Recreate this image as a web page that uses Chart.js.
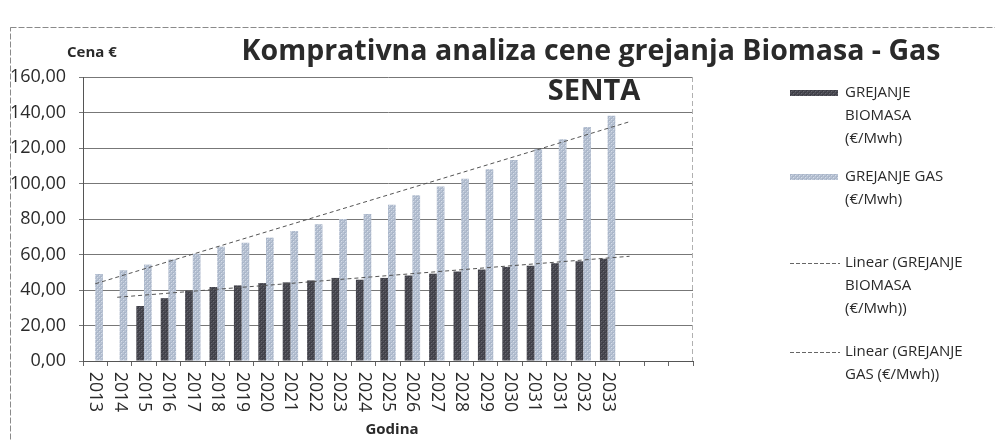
<!DOCTYPE html>
<html>
<head>
<meta charset="utf-8">
<script src="https://cdn.jsdelivr.net/npm/chart.js@4.4.1/dist/chart.umd.min.js"></script>
<style>
  html, body { margin: 0; padding: 0; background: #fff; }
  #wrap { width: 995px; height: 440px; }
</style>
</head>
<body>
<div id="wrap"><canvas id="chart" width="995" height="440"></canvas></div>
<script>
// ============================================
// DADOS
// ============================================
const years = ['2013', '2014', '2015', '2016', '2017', '2018', '2019', '2020', '2021', '2022', '2023',
  '2024', '2025', '2026', '2027', '2028', '2029', '2030', '2031', '2031', '2032', '2033', '', '', ''];

const biomasa = [null, null, 31, 35.4, 39.7, 41.7, 42.6, 43.9, 44.3, 45.4, 46.8,
  45.8, 46.8, 48.1, 49.2, 50.4, 51.5, 53, 53.7, 55.1, 56.2, 57.6];

const gas = [49, 51.1, 54.3, 57.2, 60.4, 64.4, 66.6, 69.5, 73.2, 77, 80,
  82.8, 88, 93.4, 98.3, 102.7, 108, 113.2, 119.5, 125, 131.8, 138.1];

// trend lines, end points (category index, value)
const bioTrendX = [0.9, 21.9];
const bioTrendY = [35.9, 59];
const gasTrendX = [0, 21.9];
const gasTrendY = [43.5, 134.8];

const yTicks = [0, 20, 40, 60, 80, 100, 120, 140, 160];

const legendItems = [
  { kind: 'bar', fill: 'bio', lines: ['GREJANJE', 'BIOMASA', '(€/Mwh)'], gap: 15 },
  { kind: 'bar', fill: 'gas', lines: ['GREJANJE GAS', '(€/Mwh)'], gap: 40 },
  { kind: 'line', lines: ['Linear (GREJANJE', 'BIOMASA', '(€/Mwh))'], gap: 20 },
  { kind: 'line', lines: ['Linear (GREJANJE', 'GAS (€/Mwh))'], gap: 0 }
];

// ============================================
// PADRÕES DAS BARRAS
// ============================================
function makePattern(base, dot1, dot2) {
  const c = document.createElement('canvas');
  c.width = 4; c.height = 4;
  const g = c.getContext('2d');
  g.fillStyle = base;
  g.fillRect(0, 0, 4, 4);
  g.fillStyle = dot1;
  g.fillRect(0, 0, 2, 2);
  g.fillRect(2, 2, 2, 2);
  g.fillStyle = dot2;
  g.fillRect(1, 1, 1, 1);
  g.fillRect(3, 3, 1, 1);
  return g.createPattern(c, 'repeat');
}

const bioFill = makePattern('#4c4c54', '#3e3e46', '#66666e');
const gasFill = makePattern('#b8c3d4', '#a9b5c8', '#d6dde8');

const FONT = '"Open Sans", "Liberation Sans", sans-serif';
const TEXT = '#2a2a2a';

// ============================================
// LINHAS DE TENDÊNCIA (pelas escalas x / y)
// ============================================
const trends = {
  id: 'trends',
  afterDatasetsDraw(chart) {
    const ctx = chart.ctx;
    const xs = chart.scales.x;
    const ys = chart.scales.y;
    ctx.save();
    ctx.strokeStyle = '#555';
    ctx.lineWidth = 1;
    ctx.setLineDash([4, 3]);
    [[bioTrendX, bioTrendY], [gasTrendX, gasTrendY]].forEach(([tx, ty]) => {
      ctx.beginPath();
      tx.forEach((x, i) => {
        // numeric value -> fractional category position
        const px = xs.getPixelForValue(x);
        const py = ys.getPixelForValue(ty[i]);
        if (i === 0) ctx.moveTo(px, py); else ctx.lineTo(px, py);
      });
      ctx.stroke();
    });
    ctx.restore();
  }
};

// ============================================
// DESENHO EXTRA (moldura, títulos, legenda, rótulos X)
// ============================================
const decor = {
  id: 'decor',
  beforeDraw(chart) {
    const ctx = chart.ctx;
    ctx.save();
    ctx.fillStyle = '#fff';
    ctx.fillRect(0, 0, chart.width, chart.height);
    ctx.strokeStyle = '#8a8a8a';
    ctx.lineWidth = 1;
    ctx.setLineDash([6, 2]);
    ctx.strokeRect(10.5, 27.5, 990, 420);
    ctx.restore();
  },
  afterDraw(chart) {
    const ctx = chart.ctx;
    const area = chart.chartArea;
    const xs = chart.scales.x;
    ctx.save();

    // right border of the plot
    ctx.strokeStyle = '#b0b0b0';
    ctx.setLineDash([5, 3]);
    ctx.beginPath();
    ctx.moveTo(area.right - 0.5, area.top);
    ctx.lineTo(area.right - 0.5, area.bottom);
    ctx.stroke();
    ctx.setLineDash([]);

    ctx.fillStyle = TEXT;
    ctx.textBaseline = 'middle';

    ctx.textAlign = 'center';
    ctx.font = 'bold 28.5px ' + FONT;
    ctx.fillText('Komprativna analiza cene grejanja Biomasa - Gas', 591, 52);

    ctx.font = 'bold 29px ' + FONT;
    ctx.fillText('SENTA', 594, 92);

    ctx.font = 'bold 15px ' + FONT;
    ctx.textAlign = 'left';
    ctx.fillText('Cena €', 67, 53);

    ctx.textAlign = 'center';
    ctx.font = 'bold 15px ' + FONT;
    ctx.fillText('Godina', 392, 430);

    // x labels, rotated clockwise
    ctx.font = '17.5px ' + FONT;
    ctx.textAlign = 'left';
    years.forEach((y, i) => {
      if (!y) return;
      const px = xs.getPixelForValue(i);
      ctx.save();
      ctx.translate(px, area.bottom + 11);
      ctx.rotate(Math.PI / 2);
      ctx.fillText(y, 0, 0);
      ctx.restore();
    });

    // legend
    ctx.font = '15px ' + FONT;
    let yy = 93;
    legendItems.forEach(it => {
      if (it.kind === 'bar') {
        ctx.fillStyle = it.fill === 'bio' ? bioFill : gasFill;
        ctx.fillRect(790, yy - 3, 48, 6);
      } else {
        ctx.strokeStyle = '#666';
        ctx.lineWidth = 1;
        ctx.setLineDash([4, 2]);
        ctx.beginPath();
        ctx.moveTo(790, yy + 0.5);
        ctx.lineTo(840, yy + 0.5);
        ctx.stroke();
        ctx.setLineDash([]);
      }
      ctx.fillStyle = TEXT;
      it.lines.forEach((t, j) => ctx.fillText(t, 845, yy + j * 23));
      yy += (it.lines.length - 1) * 23 + 23 + it.gap;
    });

    ctx.restore();
  }
};

// ============================================
// GRÁFICO
// ============================================
const barOpts = {
  borderWidth: 0,
  categoryPercentage: 0.63,
  barPercentage: 1
};

const ctx = document.getElementById('chart').getContext('2d');
new Chart(ctx, {
  type: 'bar',
  data: {
    labels: years,
    datasets: [
      { ...barOpts, label: 'GREJANJE BIOMASA (€/Mwh)', data: biomasa, backgroundColor: bioFill },
      { ...barOpts, label: 'GREJANJE GAS (€/Mwh)', data: gas, backgroundColor: gasFill }
    ]
  },
  options: {
    responsive: false,
    animation: false,
    layout: { padding: { top: 77, right: 302, left: 0, bottom: 0 } },
    plugins: {
      legend: { display: false },
      tooltip: { enabled: false }
    },
    scales: {
      x: {
        type: 'category',
        offset: true,
        grid: { offset: true, drawOnChartArea: false, drawTicks: true, tickLength: 5, color: '#666' },
        border: { color: '#555' },
        ticks: { display: false },
        afterFit(s) { s.height = 79; }
      },
      y: {
        min: 0,
        max: 160,
        afterBuildTicks(s) { s.ticks = yTicks.map(v => ({ value: v })); },
        grid: { color: '#777', tickLength: 4 },
        border: { color: '#555' },
        ticks: {
          color: TEXT,
          padding: 13,
          font: { family: FONT, size: 18 },
          callback: v => v.toFixed(2).replace('.', ',')
        },
        afterFit(s) { s.width = 83; }
      }
    }
  },
  plugins: [decor, trends]
});
</script>
</body>
</html>
